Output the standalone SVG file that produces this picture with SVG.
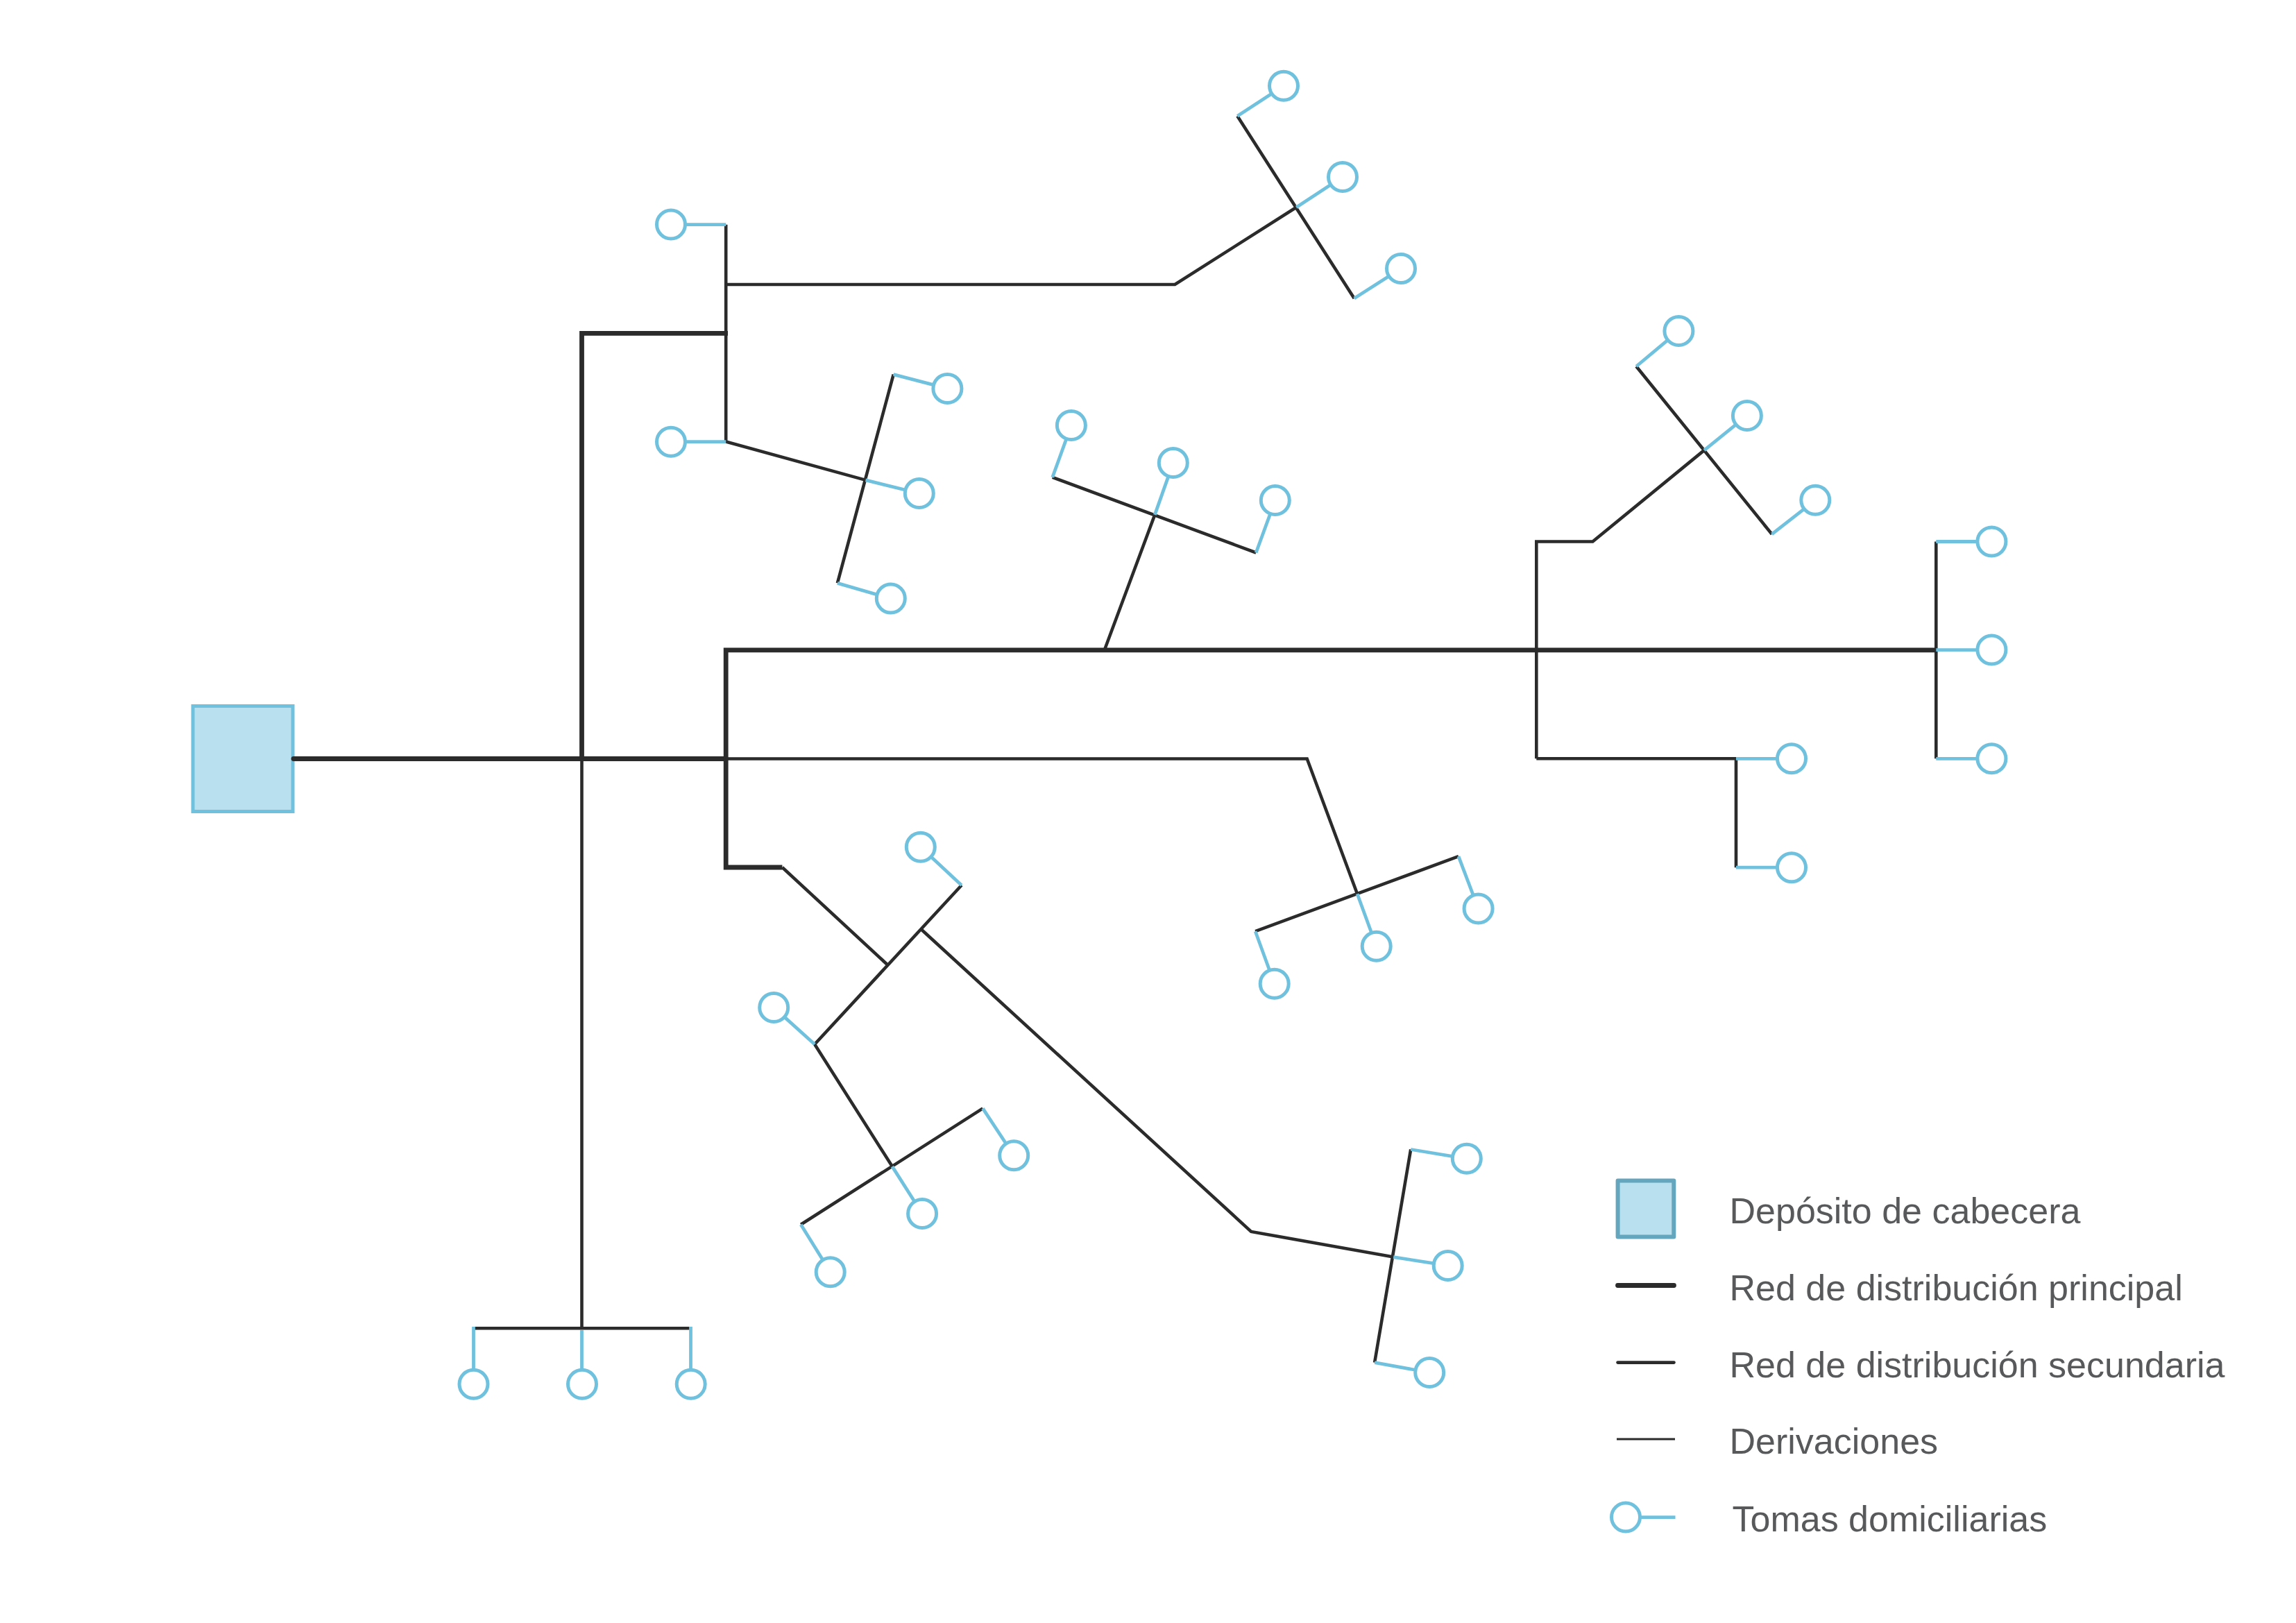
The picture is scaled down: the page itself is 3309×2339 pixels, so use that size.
<svg xmlns="http://www.w3.org/2000/svg" width="3309" height="2339" viewBox="0 0 3309 2339">
<style>
.bg{fill:#fff}
.p,.s,.d,.b{fill:none;stroke-linejoin:miter}
.p{stroke:#2b2b2b;stroke-width:6.8}
.s{stroke:#2b2b2b;stroke-width:4.6}
.d{stroke:#2b2b2b;stroke-width:3}
.b{stroke:#70c1de;stroke-width:4.8}
.t{fill:#fff;stroke:#70c1de;stroke-width:5}
.dep{fill:#b9e0ef;stroke:#70c1de;stroke-width:5}
.ldep{fill:#b9e0ef;stroke:#64a6bd;stroke-width:6;stroke-linejoin:round}
.lab{font-family:"Liberation Sans",Arial,sans-serif;font-size:52px;fill:#58595b}
.cap{stroke-linecap:round}
</style>
<rect class="bg" width="3309" height="2339"/>
<g id="deposito"><rect class="dep" x="278" y="1017.5" width="144" height="152"/></g>
<g id="connectors">
<g id="secundaria">
<path class="s" d="M838.5 1093.5V1914.3M682.5 1914.3H995.5"/>
<path class="s" d="M1046 1093.5H1883.7L1956.1 1288.2M1809.2 1342.2L2102 1234.1"/>
<path class="s" d="M1046.2 323.7V636.4L1247.5 691.9M1287.7 539.6L1206.9 840.4"/>
<path class="s" d="M1046.2 410H1693.3L1868.3 298.7M1783.3 167.3L1951.7 430"/>
<path class="s" d="M1591.8 936.8L1664.3 741.9M1516.8 687.9L1810.2 796.5"/>
<path class="s" d="M2214.3 1093.3V780.5H2295.4L2456.1 648.9M2358.2 528L2553.6 769.8"/>
<path class="s" d="M2214.3 1093.3H2502V1250.2"/>
<path class="s" d="M2790.3 780.5V1093.3"/>
<path class="s" d="M1127.4 1250L1279.4 1390.7M1385.8 1275.8L1174.1 1505L1285.9 1681.1M1416.4 1597.4L1154.2 1764.8"/>
<path class="s" d="M1328.4 1340L1803.1 1774.9L2008.2 1811.6M2033.2 1656.5L1981.1 1963.7"/>
</g>
<g id="principal">
<path class="p cap" d="M423 1093.5H1046.2"/>
<path class="p" d="M838.5 1093.5V480.3H1049"/>
<path class="p" d="M1127.4 1250H1046.2V936.8H2790.3"/>
</g>
<g id="derivaciones">
<path class="b" d="M1046.2 323.7H967"/>
<path class="b" d="M1046.2 636.6H967"/>
<path class="b" d="M1783.3 167.3L1850 123.7"/>
<path class="b" d="M1868.3 298.7L1935 255"/>
<path class="b" d="M1951.7 430L2019 387"/>
<path class="b" d="M1287.7 539.6L1365.4 559.9"/>
<path class="b" d="M1247.5 691.9L1324.8 711"/>
<path class="b" d="M1206.9 840.4L1283.8 862.6"/>
<path class="b" d="M1516.8 687.9L1543.9 612.9"/>
<path class="b" d="M1664.3 741.9L1690.8 666.9"/>
<path class="b" d="M1810.2 796.5L1837.8 721"/>
<path class="b" d="M2358.2 528L2419.4 476.9"/>
<path class="b" d="M2456.1 648.9L2517.9 598.9"/>
<path class="b" d="M2553.6 769.8L2616.3 720.8"/>
<path class="b" d="M2790.3 780.5H2870.4"/>
<path class="b" d="M2790.3 936.6H2870.4"/>
<path class="b" d="M2790.3 1093.3H2870.4"/>
<path class="b" d="M2502 1093.3H2582"/>
<path class="b" d="M2502 1250.2H2582"/>
<path class="b" d="M1809.2 1342.2L1836.7 1417.8"/>
<path class="b" d="M1956.1 1288.2L1983.7 1363.7"/>
<path class="b" d="M2102 1234.1L2130.6 1309.6"/>
<path class="b" d="M2033.2 1656.5L2113.8 1669.8"/>
<path class="b" d="M2008.2 1811.6L2086.7 1823.9"/>
<path class="b" d="M1981.1 1963.7L2060.2 1978"/>
<path class="b" d="M1385.8 1275.8L1326.8 1220.8"/>
<path class="b" d="M1174.1 1505L1115.2 1451.9"/>
<path class="b" d="M1416.4 1597.4L1461.2 1665.3"/>
<path class="b" d="M1285.9 1681.1L1329.1 1749"/>
<path class="b" d="M1154.2 1764.8L1196.7 1833.3"/>
<path class="b" d="M682.5 1912V1994.7"/>
<path class="b" d="M838.5 1917V1994.7"/>
<path class="b" d="M995.5 1912V1994.7"/>
</g>
</g>
<g id="toma-1"><circle class="t" cx="967" cy="323.5" r="20.5"/></g>
<g id="toma-2"><circle class="t" cx="967" cy="636.8" r="20.5"/></g>
<g id="toma-3"><circle class="t" cx="1850" cy="123.7" r="20.5"/></g>
<g id="toma-4"><circle class="t" cx="1935" cy="255" r="20.5"/></g>
<g id="toma-5"><circle class="t" cx="2019" cy="387" r="20.5"/></g>
<g id="toma-6"><circle class="t" cx="1365.4" cy="559.9" r="20.5"/></g>
<g id="toma-7"><circle class="t" cx="1324.8" cy="711" r="20.5"/></g>
<g id="toma-8"><circle class="t" cx="1283.8" cy="862.6" r="20.5"/></g>
<g id="toma-9"><circle class="t" cx="1543.9" cy="612.9" r="20.5"/></g>
<g id="toma-10"><circle class="t" cx="1690.8" cy="666.9" r="20.5"/></g>
<g id="toma-11"><circle class="t" cx="1837.8" cy="721" r="20.5"/></g>
<g id="toma-12"><circle class="t" cx="2419.4" cy="476.9" r="20.5"/></g>
<g id="toma-13"><circle class="t" cx="2517.9" cy="598.9" r="20.5"/></g>
<g id="toma-14"><circle class="t" cx="2616.3" cy="720.8" r="20.5"/></g>
<g id="toma-15"><circle class="t" cx="2870.4" cy="780.5" r="20.5"/></g>
<g id="toma-16"><circle class="t" cx="2870.4" cy="936.6" r="20.5"/></g>
<g id="toma-17"><circle class="t" cx="2870.4" cy="1093.3" r="20.5"/></g>
<g id="toma-18"><circle class="t" cx="2582" cy="1093.3" r="20.5"/></g>
<g id="toma-19"><circle class="t" cx="2582" cy="1250.2" r="20.5"/></g>
<g id="toma-20"><circle class="t" cx="1836.7" cy="1417.8" r="20.5"/></g>
<g id="toma-21"><circle class="t" cx="1983.7" cy="1363.7" r="20.5"/></g>
<g id="toma-22"><circle class="t" cx="2130.6" cy="1309.6" r="20.5"/></g>
<g id="toma-23"><circle class="t" cx="2113.8" cy="1669.8" r="20.5"/></g>
<g id="toma-24"><circle class="t" cx="2086.7" cy="1823.9" r="20.5"/></g>
<g id="toma-25"><circle class="t" cx="2060.2" cy="1978" r="20.5"/></g>
<g id="toma-26"><circle class="t" cx="1326.8" cy="1220.8" r="20.5"/></g>
<g id="toma-27"><circle class="t" cx="1115.2" cy="1451.9" r="20.5"/></g>
<g id="toma-28"><circle class="t" cx="1461.2" cy="1665.3" r="20.5"/></g>
<g id="toma-29"><circle class="t" cx="1329.1" cy="1749" r="20.5"/></g>
<g id="toma-30"><circle class="t" cx="1196.7" cy="1833.3" r="20.5"/></g>
<g id="toma-31"><circle class="t" cx="682.5" cy="1994.7" r="20.5"/></g>
<g id="toma-32"><circle class="t" cx="839" cy="1994.7" r="20.5"/></g>
<g id="toma-33"><circle class="t" cx="995.7" cy="1994.7" r="20.5"/></g>
<g id="leyenda">
<rect class="ldep" x="2331.6" y="1701.4" width="80.7" height="81"/>
<text class="lab" x="2492.5" y="1763">Depósito de cabecera</text>
<path class="p cap" d="M2331.5 1852.5H2412.5"/>
<text class="lab" x="2492.5" y="1874">Red de distribución principal</text>
<path class="s cap" d="M2331.5 1963.6H2412.5"/>
<text class="lab" x="2492.5" y="1985">Red de distribución secundaria</text>
<path class="d" d="M2330 2074H2414"/>
<text class="lab" x="2492.5" y="2094.5">Derivaciones</text>
<path class="b" d="M2343 2186.6H2414.5"/>
<circle class="t" cx="2343" cy="2186.6" r="20.5"/>
<text class="lab" x="2496.5" y="2206.5">Tomas domiciliarias</text>
</g>
</svg>
